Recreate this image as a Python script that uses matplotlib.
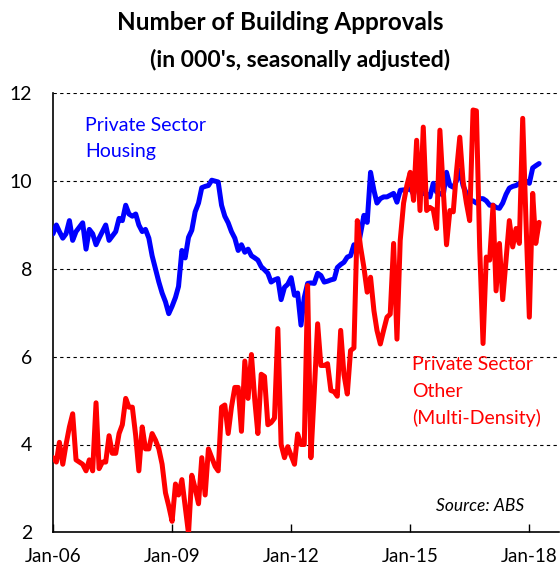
import matplotlib
matplotlib.use("Agg")
import matplotlib.dates as mdates
import matplotlib.pyplot as plt
import pandas as pd

plt.rcParams["font.family"] = ["Lato", "DejaVu Sans"]

# monthly, Jan-06 .. Apr-18 (000's, seasonally adjusted)
months = pd.date_range("2006-01-01", periods=148, freq="MS")

housing = [
    8.8, 9.0, 8.85, 8.7, 8.8, 9.1, 8.65, 8.85, 8.95, 9.05, 8.45, 8.9,
    8.8, 8.55, 8.7, 8.85, 9.0, 8.65, 8.75, 8.85, 9.15, 9.1, 9.45, 9.25,
    9.2, 9.25, 9.0, 8.85, 8.9, 8.7, 8.3, 8.0, 7.7, 7.45, 7.25, 6.98,
    7.15, 7.35, 7.6, 8.42, 8.25, 8.72, 8.88, 9.3, 9.5, 9.85, 9.88, 9.9,
    10.02, 10.0, 9.98, 9.45, 9.2, 9.05, 8.85, 8.7, 8.42, 8.55, 8.38, 8.45,
    8.3, 8.25, 8.2, 8.05, 7.98, 7.9, 7.7, 7.75, 7.78, 7.3, 7.58, 7.65,
    7.8, 7.4, 7.45, 6.72, 7.35, 7.67, 7.68, 7.67, 7.9, 7.85, 7.7, 7.72,
    7.75, 7.77, 8.03, 8.1, 8.15, 8.27, 8.3, 8.55, 8.4, 8.8, 9.22, 9.06,
    10.2, 9.79, 9.5, 9.6, 9.64, 9.64, 9.68, 9.72, 9.52, 9.79, 9.8, 9.8,
    9.83, 9.7, 10.0, 9.75, 9.72, 9.7, 9.64, 9.95, 9.75, 9.72, 9.68, 10.2,
    9.9, 9.86, 10.0, 10.25, 9.9, 9.72, 9.56, 9.55, 9.5, 9.6, 9.6, 9.55,
    9.45, 9.45, 9.4, 9.38, 9.5, 9.7, 9.84, 9.88, 9.9, 9.95, 10.0, 10.0,
    9.95, 10.3, 10.35, 10.4,
]

other = [
    3.7, 3.6, 4.05, 3.55, 4.0, 4.4, 4.7, 3.65, 3.6, 3.55, 3.4, 3.65,
    3.4, 4.95, 3.45, 3.6, 3.6, 4.2, 3.8, 3.8, 4.25, 4.45, 5.05, 4.85,
    4.85, 4.2, 3.4, 4.4, 3.9, 3.9, 4.25, 4.1, 3.9, 3.55, 2.9, 2.6,
    2.25, 3.1, 2.85, 3.2, 2.6, 1.97, 3.3, 3.0, 2.65, 3.7, 2.85, 3.9,
    3.7, 3.5, 3.4, 4.85, 4.9, 4.25, 4.85, 5.3, 5.3, 4.3, 5.9, 5.05,
    6.05, 5.0, 4.25, 5.6, 5.55, 4.45, 4.5, 4.6, 6.64, 4.0, 3.7, 3.95,
    3.75, 3.55, 4.24, 4.0, 4.0, 7.62, 3.7, 5.2, 6.75, 5.8, 5.8, 5.84,
    5.23, 5.2, 5.1, 6.6, 5.6, 5.15, 6.14, 6.2, 9.1, 8.5, 8.03, 7.47,
    7.81, 7.05, 6.6, 6.29, 6.6, 6.9, 6.97, 8.58, 6.4, 8.65, 9.5, 9.9,
    10.2, 9.56, 10.93, 9.33, 11.23, 9.33, 9.4, 9.35, 8.92, 11.16, 9.8, 8.55,
    9.33, 9.3, 10.2, 11.0, 10.0, 9.5, 9.1, 11.62, 11.6, 8.5, 6.3, 8.27,
    8.2, 9.45, 7.5, 8.58, 7.3, 8.2, 9.1, 8.5, 8.92, 8.58, 11.43, 9.1,
    6.9, 9.72, 8.58, 9.06,
]

y_ticks = [2, 4, 6, 8, 10, 12]
x_tick_years = [2006, 2009, 2012, 2015, 2018]
housing_label = ["Private Sector", "Housing"]
other_label = ["Private Sector", "Other", "(Multi-Density)"]

W, H = 560, 568
fig = plt.figure(figsize=(W / 100, H / 100), dpi=100)
ax = fig.add_axes([53 / W, 1 - 532.3 / H, 506 / W, 439 / H])

ax.plot(months, housing, color="#0000FF", lw=3.6, solid_capstyle="round",
        solid_joinstyle="round", zorder=3)
ax.plot(months, other, color="#FF0000", lw=3.6, solid_capstyle="round",
        solid_joinstyle="round", zorder=4)

ax.set_ylim(2, 12)
ax.set_yticks(y_ticks)
ax.set_xlim(pd.Timestamp("2006-01-01"), pd.Timestamp("2018-10-01"))
ax.set_xticks([pd.Timestamp(f"{y}-01-01") for y in x_tick_years])
ax.xaxis.set_major_formatter(mdates.DateFormatter("%b-%y"))

for v in y_ticks[1:]:
    ax.axhline(v, color="black", lw=0.8, ls=(0, (3, 3)), zorder=1)

for side in ("top", "right"):
    ax.spines[side].set_visible(False)
for side in ("left", "bottom"):
    ax.spines[side].set_linewidth(1.2)
    ax.spines[side].set_color("black")

ax.tick_params(axis="y", length=0, pad=15, labelsize=14)
ax.tick_params(axis="x", direction="in", length=6, width=1, pad=11, labelsize=13.5)

fig.text(0.5, 0.961, "Number of Building Approvals", ha="center", va="center",
         fontsize=17.5, fontweight="bold")
fig.text(0.535, 0.894, "(in 000's, seasonally adjusted)", ha="center", va="center",
         fontsize=16.5, fontweight="bold")

# series labels, one line at a time (baselines in pixels)
for i, line in enumerate(housing_label):
    fig.text(85 / W, 1 - (131 + 26.5 * i) / H, line, color="#0000FF",
             fontsize=14, va="baseline")
for i, line in enumerate(other_label):
    fig.text(412 / W, 1 - (370 + 27 * i) / H, line, color="#FF0000",
             fontsize=14, va="baseline")
fig.text(436 / W, 1 - 511 / H, "Source: ABS", fontsize=12.5, style="italic",
         va="baseline")

fig.savefig("out.png", dpi=100)
